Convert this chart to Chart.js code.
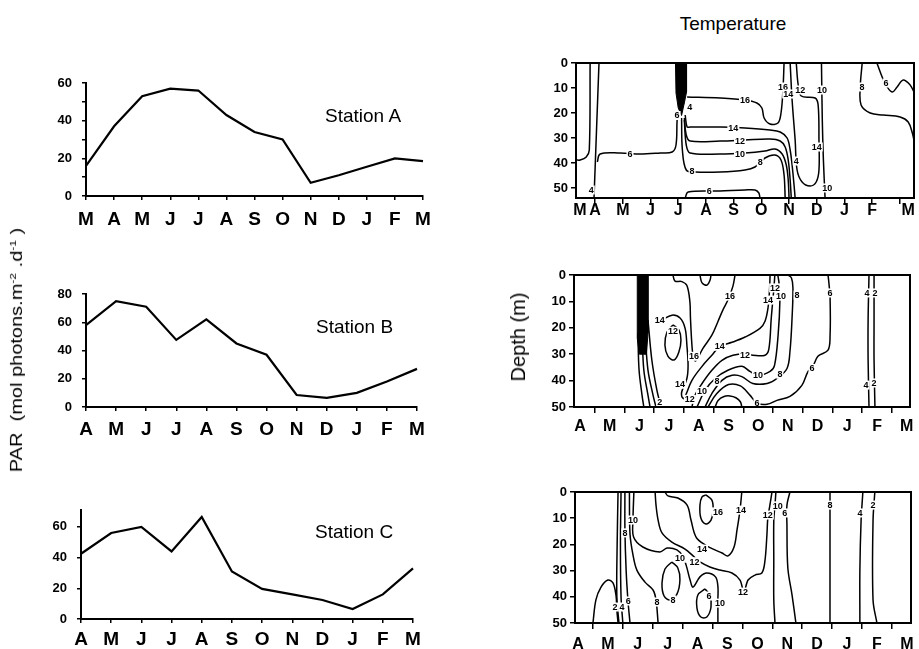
<!DOCTYPE html>
<html>
<head>
<meta charset="utf-8">
<title>PAR and Temperature</title>
<script src="https://cdn.jsdelivr.net/npm/chart.js@4.4.1/dist/chart.umd.min.js"></script>
<style>
html,body{margin:0;padding:0;background:#fff;overflow:hidden;width:919px;height:649px;}
#wrap{position:relative;width:919px;height:649px;overflow:hidden;}
canvas{position:absolute;}
.t{position:absolute;font-family:'Liberation Sans',Arial,sans-serif;color:#000;white-space:nowrap;line-height:1;}
.t sup{font-size:12px;}
</style>
</head>
<body>
<div id="wrap">
  <canvas id="pA" width="460" height="175" style="left:0;top:60px"></canvas>
  <canvas id="pB" width="460" height="170" style="left:0;top:270px"></canvas>
  <canvas id="pC" width="460" height="159" style="left:0;top:490px"></canvas>
  <canvas id="t1" width="389" height="190" style="left:530px;top:40px"></canvas>
  <canvas id="t2" width="391" height="185" style="left:528px;top:255px"></canvas>
  <canvas id="t3" width="390" height="178" style="left:529px;top:471px"></canvas>

  <div class="t" style="left:16px;top:350px;font-size:20px;transform:translate(-50%,-50%) rotate(-90deg) scaleY(0.8);">PAR&nbsp;&nbsp;(mol photons.m<sup>-2</sup> .d<sup>-1</sup> )</div>
  <div class="t" style="left:325px;top:106px;font-size:19px;">Station A</div>
  <div class="t" style="left:316px;top:317px;font-size:19px;">Station B</div>
  <div class="t" style="left:315px;top:522px;font-size:19px;">Station C</div>
  <div class="t" style="left:733px;top:14px;font-size:19px;transform:translateX(-50%);">Temperature</div>
  <div class="t" style="left:518px;top:337px;font-size:20px;transform:translate(-50%,-50%) rotate(-90deg);">Depth (m)</div>
</div>
<script>
// ---------------- Left panels: PAR ----------------
const monthsA  = ['M','A','M','J','J','A','S','O','N','D','J','F','M'];
const monthsBC = ['A','M','J','J','A','S','O','N','D','J','F','M'];
const parA = [16, 37, 53, 57, 56, 43, 34, 30, 7, 11, 15.5, 20, 18.5];
const parB = [58, 75, 71, 47.5, 62, 45, 37, 8.5, 6.5, 10, 18, 27];
const parC = [42.5, 56, 60, 44, 66.5, 31, 19.6, 16, 12.4, 6.5, 16, 33];
const yTicksA = [0,10,20,30,40,50,60];
const yTicksB = [0,10,20,30,40,50,60,70,80];
const yTicksC = [0,10,20,30,40,50,60];

// ---------------- Right panels: temperature contours ----------------
const depthTicks = [0,10,20,30,40,50];
const t1TickVals   = [0.45,1,2,3,4,5,6,7,8,9,10,11,12,12.3];
const t1TickLabels = ['M','A','M','J','J','A','S','O','N','D','J','F','','M'];
const t23TickVals   = [0,0.5,1,1.5,2,2.5,3,3.5,4,4.5,5,5.5,6,6.5,7,7.5,8,8.5,9,9.5,10,10.5,11];
const t23TickLabels = ['A','','M','','J','','J','','A','','S','','O','','N','','D','','J','','F','','M'];

// Panel 1 (x: month index, A=1; y: depth m)
const t1Bar  = [[3.90,0],[4.30,0],[4.30,11.6],[4.22,16],[4.12,21],[4.0,18],[3.92,12],[3.90,0]];
const t1Left = [[0.82,0],[0.79,34.8],[0.68,37.6],[0.46,38.8],[0.31,38.8]];
const t1C4   = [[1.14,0],[1.05,27],[0.96,54]];
const t1C6   = [[1.08,39.6],[1.18,36.4],[1.90,36],[2.62,36.4],[3.35,36],[3.78,35.6],[3.92,32.8],[3.96,22.8],[4.0,20]];
const t1C16  = [[4.32,13.6],[5.51,14],[6.41,14.8],[6.84,16],[7.02,18],[7.10,22],[7.31,24.4],[7.60,24],[7.71,20],[7.78,10.8],[7.82,0]];
const t1C14  = [[4.25,20.8],[4.32,25.6],[4.43,25.6],[5.51,25.6],[6.41,26],[7.31,26.8],[7.68,27.6],[7.93,30],[8.04,34.8],[8.11,40.8],[8.18,48.8],[8.22,54]];
const t1C12  = [[4.22,22],[4.29,28.8],[4.43,31.2],[5.51,31.2],[6.41,30.8],[7.31,30.4],[7.68,31.2],[7.86,33.6],[7.97,38.8],[8.04,46.8],[8.08,54]];
const t1C10  = [[4.22,22.8],[4.29,32.8],[4.43,36],[5.51,36.4],[6.41,36],[7.13,35.2],[7.49,34.4],[7.75,36.4],[7.90,40.8],[7.97,46.8],[8.0,54]];
const t1C8   = [[4.12,22],[4.15,34.8],[4.29,42.8],[4.61,43.6],[5.51,43.6],[6.41,42.8],[6.77,41.6],[7.13,38],[7.49,36.8],[7.71,38.8],[7.82,44.8],[7.86,54]];
const t1C6b  = [[4.25,54],[4.36,51.6],[5.51,51.2],[6.41,50.8],[6.77,50.8],[6.91,52],[6.95,54]];
const t1U    = [[8.04,0],[8.11,14.8],[8.22,30.8],[8.29,42.8],[8.47,47.6],[8.76,49.2],[8.98,47.6],[9.08,42.8],[9.08,30.8],[9.05,16.8],[8.94,14],[8.44,13.2],[8.33,8.8],[8.26,0]];
const t1C10b = [[9.17,0],[9.2,22.8],[9.24,38.8],[9.3,54]];
const t1C8r  = [[10.64,0],[10.57,9.6],[10.6,16.8],[10.93,20],[11.4,20.8],[12.01,21.6],[12.3,23.6],[12.45,28],[12.51,31]];
const t1C6r  = [[11.17,0],[11.46,8],[11.72,11.6],[11.9,9.6],[12.12,6.8],[12.37,8.8],[12.51,11.6]];
const t1Labels = [
  [0.86,50.8,'4'],[2.26,36.4,'6'],[3.96,21,'6'],[4.42,17.6,'4'],[6.41,15,'16'],[7.78,9.6,'16'],
  [5.99,26,'14'],[6.23,31.2,'12'],[6.23,36.4,'10'],[4.5,43.4,'8'],[6.96,39.6,'8'],[5.12,51.2,'6'],
  [8.26,39.2,'4'],[7.97,12.4,'14'],[8.4,10.8,'12'],[9.19,10.8,'10'],[9.0,33.6,'14'],[9.38,50,'10'],
  [10.63,9.6,'8'],[11.5,8,'6']
];

// Panel 2 (x: month index, A=0)
const t2Bar  = [[1.93,0],[2.29,0],[2.29,22],[2.24,30],[2.0,30],[1.93,24],[1.93,0]];
const t2F1   = [[1.95,22],[1.99,36],[2.09,45.5],[2.15,50]];
const t2F2   = [[2.09,22],[2.15,36],[2.29,45.5],[2.36,50]];
const t2F3   = [[2.19,22],[2.29,36],[2.46,45.5],[2.56,50]];
const t2F4   = [[2.29,17],[2.42,32.2],[2.59,43.6],[2.73,50]];
const t2C16  = [[3.13,0],[3.2,2.3],[3.43,2.5],[3.6,4],[3.70,10],[3.72,16.3],[3.77,26.6],[3.82,31.5],[3.9,32.5],[4.14,27.8],[4.44,22.8],[4.65,17.5],[4.81,13.3],[4.98,9.5],[5.15,4.2],[5.22,0]];
const t2Bump = [[4.04,0],[4.11,3],[4.28,3.8],[4.38,1.9],[4.41,0]];
const t2C14  = [[2.8,16.8],[3.10,15.2],[3.37,16.3],[3.54,20.2],[3.60,26.6],[3.64,34.2],[3.6,39.2],[3.43,44.1],[3.43,46],[3.5,46.8],[3.77,39.9],[4.11,34.6],[4.44,30.4],[4.71,27],[5.12,25.5],[5.56,23.5],[6.06,20.2],[6.23,17.5],[6.33,12.5],[6.38,6],[6.4,0]];
const t2Loop12 = [[3.13,18.9],[3.33,20.8],[3.40,24.6],[3.33,29.2],[3.17,32.2],[2.96,30.7],[2.86,26.5],[2.93,21.6],[3.13,18.9]];
const t2C12  = [[3.77,50],[3.87,45.6],[4.11,41.1],[4.44,36.1],[4.78,32.3],[5.15,30.4],[5.56,29.9],[5.82,30.4],[6.23,30.4],[6.36,28],[6.44,16.3],[6.49,9.9],[6.53,4.9],[6.56,0]];
const t2C10  = [[3.94,50],[4.21,43.7],[4.55,39.2],[4.98,36.1],[5.45,34.6],[5.72,36.5],[5.99,38],[6.4,36.5],[6.55,34.2],[6.67,22.8],[6.73,9.9],[6.7,3],[6.66,0]];
const t2C8   = [[4.21,50],[4.44,44.9],[4.78,39.9],[5.12,38],[5.45,38.5],[5.82,41.1],[6.3,41.1],[6.63,39.2],[6.97,35.4],[7.07,28.9],[7.14,16.3],[7.17,4.9],[7.12,1.1],[7.0,0]];
const t2C6   = [[4.31,50],[4.6,45],[5.0,41.5],[5.4,42],[5.72,45.5],[5.96,48.5],[6.3,49],[6.63,47.5],[7.07,46],[7.47,41.8],[7.68,36.5],[7.81,35.4],[8.01,30.8],[8.35,28.5],[8.42,22.8],[8.42,8.7],[8.38,3],[8.35,0]];
const t2Dome = [[4.55,50],[4.65,47.5],[4.85,46],[5.05,45.8],[5.25,46.5],[5.4,48],[5.45,50]];
const t2C4   = [[9.73,0],[9.70,17],[9.70,32.2],[9.73,50]];
const t2C2   = [[9.90,0],[9.90,17],[9.90,32.2],[9.93,50]];
const t2Labels = [
  [2.69,17,'14'],[3.13,21.3,'12'],[3.84,30.8,'16'],[5.05,8,'16'],[3.37,41.4,'14'],[4.71,27,'14'],
  [6.33,9.5,'14'],[3.7,47.1,'12'],[5.56,30.2,'12'],[6.57,4.9,'12'],[4.11,44.1,'10'],[5.99,38,'10'],
  [6.77,8,'10'],[4.61,40.3,'8'],[6.73,37.6,'8'],[7.31,7.6,'8'],[7.81,35.4,'6'],[8.42,6.8,'6'],
  [5.96,48.6,'6'],[2.69,48.3,'2'],[9.66,6.8,'4'],[9.93,6.8,'2'],[9.63,41.7,'4'],[9.9,40.9,'2']
];

// Panel 3 (x: month index, A=0)
const t3Hump   = [[0.50,50],[0.60,41.2],[0.77,36.3],[1.00,33.6],[1.17,34.7],[1.27,39.3],[1.30,45],[1.34,50]];
const t3C2     = [[1.34,0],[1.31,20],[1.30,40],[1.37,50]];
const t3C4     = [[1.44,0],[1.42,20],[1.44,40],[1.5,50]];
const t3C6     = [[1.57,0],[1.57,14.5],[1.61,29.8],[1.67,41.2],[1.74,50]];
const t3C8     = [[1.72,0],[1.74,16],[1.84,24],[1.97,29.8],[2.24,34.4],[2.51,37.4],[2.61,41.2],[2.68,50]];
const t3C10    = [[1.87,0],[1.84,10.7],[1.86,17.2],[2.17,21],[2.74,22.9],[2.98,21.4],[3.31,22.1],[3.5,24.5],[3.62,28],[3.75,33.6],[3.85,36.3],[4.08,32.4],[4.31,30.9],[4.6,32.4],[4.68,36],[4.68,41.2],[4.68,50]];
const t3Loop8  = [[3.14,26.7],[3.34,29],[3.41,33.6],[3.31,39],[3.08,41.2],[2.88,39.7],[2.81,34.7],[2.91,29.4],[3.14,26.7]];
const t3Loop6  = [[4.25,37],[4.41,39.3],[4.45,43.9],[4.31,47.7],[4.11,47.7],[3.98,44.3],[4.01,39.3],[4.25,37]];
const t3C12    = [[2.58,0],[2.61,5],[2.68,10.7],[2.81,15.6],[3.14,19.1],[3.58,21.8],[3.85,24.4],[4.08,26.7],[4.41,28.6],[4.75,29.8],[5.15,30.9],[5.42,33.6],[5.55,38.2],[5.69,33.6],[5.92,31.7],[6.15,30.9],[6.25,26.7],[6.32,16.4],[6.35,9.9],[6.42,5],[6.49,0]];
const t3C14    = [[2.91,0],[3.01,1.5],[3.34,2.3],[3.65,5],[3.78,10.7],[3.95,17.2],[4.25,20.2],[4.58,22.1],[4.82,23.3],[5.02,24.4],[5.22,21],[5.32,14.5],[5.42,6.9],[5.48,0]];
const t3Loop16 = [[4.28,1.1],[4.48,3.1],[4.52,6.9],[4.45,10.7],[4.28,12.2],[4.11,9.9],[4.08,5],[4.15,1.9],[4.28,1.1]];
const t3C10b   = [[6.62,0],[6.59,5],[6.55,10.7],[6.55,26],[6.55,41.2],[6.59,50]];
const t3C6b    = [[7.09,0],[6.99,5],[6.99,12.6],[7.02,29],[7.16,39.3],[7.29,50]];
const t3C8b    = [[8.43,0],[8.43,25],[8.43,50]];
const t3C4b    = [[9.53,0],[9.47,11],[9.43,30],[9.43,50]];
const t3C2b    = [[9.93,0],[9.87,11],[9.87,41.2],[10.0,50]];
const t3Labels = [
  [1.24,43.9,'2'],[1.47,43.9,'4'],[1.68,41.6,'6'],[1.57,15.6,'8'],[1.84,10.7,'10'],[2.64,42,'8'],
  [3.41,25.3,'10'],[3.9,26.6,'12'],[3.18,41.2,'8'],[4.38,39.7,'6'],[4.75,42.4,'10'],[4.68,7.6,'16'],
  [4.15,21.8,'14'],[5.45,6.9,'14'],[5.52,38.2,'12'],[6.35,8.8,'12'],[6.68,5.3,'10'],[6.92,8,'6'],
  [8.43,5,'8'],[9.43,8,'4'],[9.87,5,'2']
];

// ---------------- Chart helpers ----------------
const SANS = "'Liberation Sans', Arial, sans-serif";
Chart.defaults.animation = false;
Chart.defaults.color = '#000';

const boxPlugin = {
  id: 'box',
  afterDraw(c) {
    const a = c.chartArea, x = c.ctx;
    x.save(); x.strokeStyle = '#000'; x.lineWidth = 2;
    x.strokeRect(a.left, a.top, a.right - a.left, a.bottom - a.top);
    x.restore();
  }
};
const labelPlugin = {
  id: 'clabels',
  afterDatasetsDraw(c, args, opts) {
    const items = (opts && opts.items) || [];
    const ctx = c.ctx, sx = c.scales.x, sy = c.scales.y;
    ctx.save();
    ctx.font = 'bold 9px ' + SANS;
    ctx.textAlign = 'center'; ctx.textBaseline = 'middle';
    items.forEach(it => {
      const px = sx.getPixelForValue(it[0]), py = sy.getPixelForValue(it[1]);
      const w = ctx.measureText(it[2]).width;
      ctx.fillStyle = '#fff'; ctx.fillRect(px - w / 2 - 1, py - 4.5, w + 2, 9);
      ctx.fillStyle = '#000'; ctx.fillText(it[2], px, py + 0.5);
    });
    ctx.restore();
  }
};

function leftChart(id, labels, values, yMax, yTicks, cfg) {
  return new Chart(document.getElementById(id), {
    type: 'line',
    data: { labels: labels, datasets: [{ data: values, borderColor: '#000', borderWidth: 2.2, pointRadius: 0, tension: 0, fill: false }] },
    options: {
      responsive: false, animation: false, events: [],
      layout: { padding: { top: cfg.padT, right: cfg.padR, left: 0, bottom: 0 } },
      plugins: { legend: { display: false }, tooltip: { enabled: false } },
      scales: {
        x: {
          type: 'category', offset: false,
          afterFit: s => { s.height = cfg.xH; s.paddingLeft = 0; s.paddingRight = 0; },
          grid: { drawOnChartArea: false, drawTicks: true, tickLength: 4, color: '#000', lineWidth: 1.5 },
          border: { display: true, color: '#000', width: 2 },
          ticks: { autoSkip: false, maxRotation: 0, minRotation: 0, padding: cfg.labelPad, color: '#000',
                   font: { family: SANS, size: 19, weight: 'bold' } }
        },
        y: {
          type: 'linear', min: 0, max: yMax,
          afterBuildTicks: s => { s.ticks = yTicks.map(v => ({ value: v })); },
          afterFit: s => { s.width = cfg.yW; s.paddingTop = 0; s.paddingBottom = 0; },
          grid: { drawOnChartArea: false, drawTicks: true, tickLength: 4, color: '#000', lineWidth: 1.5 },
          border: { display: true, color: '#000', width: 2 },
          ticks: { padding: 10, color: '#000', font: { family: SANS, size: 13, weight: 'bold' },
                   callback: v => (v % 20 === 0 ? String(v) : '') }
        }
      }
    }
  });
}

function toXY(arr) { return arr.map(p => ({ x: p[0], y: p[1] })); }

function contourChart(id, lines, bars, labels, cfg) {
  const ds = [];
  bars.forEach(b => ds.push({ data: toXY(b), borderColor: '#000', backgroundColor: '#000', borderWidth: 1,
                              fill: 'shape', pointRadius: 0, tension: 0 }));
  lines.forEach(l => ds.push({ data: toXY(l), borderColor: '#000', borderWidth: 1.5, fill: false,
                               pointRadius: 0, tension: 0.35 }));
  return new Chart(document.getElementById(id), {
    type: 'line',
    data: { datasets: ds },
    options: {
      responsive: false, animation: false, events: [],
      layout: { padding: { top: cfg.padT, right: cfg.padR, left: 0, bottom: 0 } },
      plugins: { legend: { display: false }, tooltip: { enabled: false }, clabels: { items: labels } },
      scales: {
        x: {
          type: 'linear', min: cfg.xMin, max: cfg.xMax,
          afterBuildTicks: s => { s.ticks = cfg.tickVals.map(v => ({ value: v })); },
          afterFit: s => { s.height = cfg.xH; s.paddingLeft = 0; s.paddingRight = 0; },
          grid: { drawOnChartArea: false, drawTicks: true, tickLength: 6, color: '#000', lineWidth: 1.5,
                  tickColor: c => (c.tick && cfg.isMark(c.tick.value)) ? '#000' : 'rgba(0,0,0,0)' },
          border: { display: true, color: '#000', width: 2 },
          ticks: { autoSkip: false, maxRotation: 0, minRotation: 0, padding: cfg.labelPad, color: '#000',
                   font: { family: SANS, size: 16, weight: 'bold' },
                   callback: (v, i) => cfg.tickLabels[i] }
        },
        y: {
          type: 'linear', reverse: true, min: 0, max: cfg.yMax,
          afterBuildTicks: s => { s.ticks = depthTicks.map(v => ({ value: v })); },
          afterFit: s => { s.width = 46; s.paddingTop = 0; s.paddingBottom = 0; },
          grid: { drawOnChartArea: false, drawTicks: true, tickLength: 5, color: '#000', lineWidth: 1.5 },
          border: { display: true, color: '#000', width: 2 },
          ticks: { padding: 3, color: '#000', font: { family: SANS, size: 13, weight: 'bold' },
                   callback: v => String(v) }
        }
      }
    },
    plugins: [labelPlugin, boxPlugin]
  });
}

// ---------------- Build ----------------
leftChart('pA', monthsA, parA, 60, yTicksA, { padT: 23, padR: 37, xH: 39, yW: 86, labelPad: 8 });
leftChart('pB', monthsBC, parB, 80, yTicksB, { padT: 24, padR: 43, xH: 33, yW: 86, labelPad: 7 });
leftChart('pC', monthsBC, parC, 71, yTicksC, { padT: 20, padR: 47, xH: 30, yW: 81, labelPad: 5 });

contourChart('t1',
  [t1Left, t1C4, t1C6, t1C16, t1C14, t1C12, t1C10, t1C8, t1C6b, t1U, t1C10b, t1C8r, t1C6r],
  [t1Bar], t1Labels,
  { padT: 23, padR: 5, xH: 32, xMin: 0.31, xMax: 12.51, yMax: 54, labelPad: -3,
    tickVals: t1TickVals, tickLabels: t1TickLabels, isMark: v => Number.isInteger(v) && v >= 1 });

contourChart('t2',
  [t2F1, t2F2, t2F3, t2F4, t2C16, t2Bump, t2C14, t2Loop12, t2C12, t2C10, t2C8, t2C6, t2Dome, t2C4, t2C2],
  [t2Bar], t2Labels,
  { padT: 20, padR: 9, xH: 33, xMin: -0.20, xMax: 11.11, yMax: 50, labelPad: 4,
    tickVals: t23TickVals, tickLabels: t23TickLabels, isMark: v => !Number.isInteger(v) });

contourChart('t3',
  [t3Hump, t3C2, t3C4, t3C6, t3C8, t3C10, t3Loop8, t3Loop6, t3C12, t3C14, t3Loop16, t3C10b, t3C6b, t3C8b, t3C4b, t3C2b],
  [], t3Labels,
  { padT: 21, padR: 8, xH: 26, xMin: -0.10, xMax: 11.14, yMax: 50, labelPad: 6,
    tickVals: t23TickVals, tickLabels: t23TickLabels, isMark: v => !Number.isInteger(v) });
</script>
</body>
</html>
